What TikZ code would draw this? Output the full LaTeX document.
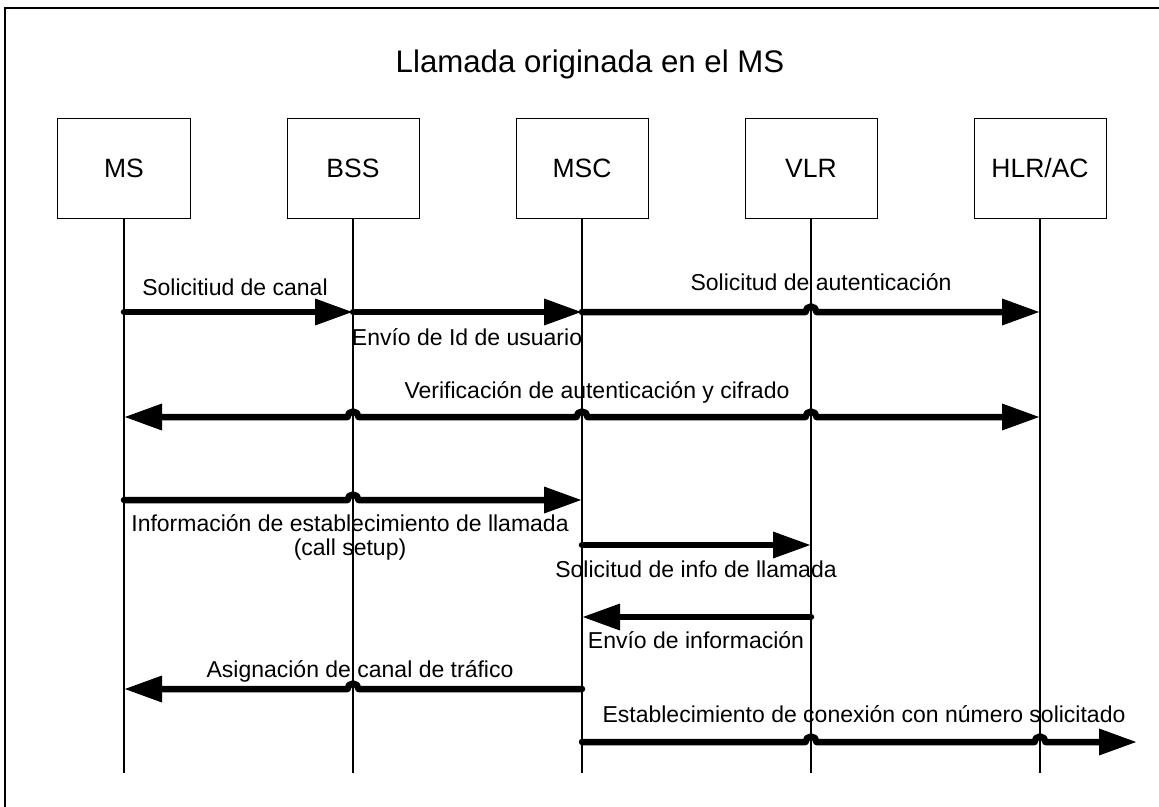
\documentclass[tikz,border=0pt]{standalone}
\usepackage{fontspec}
\setmainfont{Liberation Sans}
\usetikzlibrary{arrows.meta}
\begin{document}
\begin{tikzpicture}[x=1bp,y=-1bp,
  >={Triangle[length=38bp,width=25bp]},
  ent/.style={draw, line width=1bp, minimum width=132bp, minimum height=99bp, inner sep=0pt, font=\fontsize{26.5bp}{30bp}\selectfont},
  life/.style={line width=1.3bp},
  msg/.style={line width=6.5bp, line cap=round, line join=round},
  lbl/.style={anchor=base, inner sep=0pt, font=\fontsize{23bp}{26bp}\selectfont},
  ttl/.style={anchor=base, inner sep=0pt, font=\fontsize{31.2bp}{35bp}\selectfont},
]
\useasboundingbox (0,0) rectangle (1159,807);
% frame
\draw[line width=1.3bp] (5,807) -- (5,8) -- (1159,8);
% title
\node[ttl] (title) at (590,73) {Llamada originada en el MS};
% entities
\node[ent] (ms)  at (124,168.5)  {MS};
\node[ent] (bss) at (353,168.5)  {BSS};
\node[ent] (msc) at (582,168.5)  {MSC};
\node[ent] (vlr) at (811,168.5)  {VLR};
\node[ent] (hlr) at (1040,168.5) {HLR/AC};
% lifelines
\foreach \n in {ms,bss,msc,vlr,hlr}{
  \coordinate (\n end) at (\n.south |- 0,773);
  \draw[life] (\n.south) -- (\n end);
}
% row 1
\draw[msg,->] (ms |- 0,312) -- (bss |- 0,312);
\node[lbl] (l1) at (235,295) {Solicitiud de canal};
\draw[msg,->] (bss |- 0,312) -- (msc |- 0,312);
\node[lbl] (l2) at (467,345) {Envío de Id de usuario};
\draw[msg,->] (msc |- 0,312) -- ([xshift=-5.5bp]vlr |- 0,312) arc(180:360:5.5) -- (hlr |- 0,312);
\node[lbl] (l3) at (821,290) {Solicitud de autenticación};
% row 2
\draw[msg,<->] (ms |- 0,417) -- ([xshift=-5.5bp]bss |- 0,417) arc(180:360:5.5)
   -- ([xshift=-5.5bp]msc |- 0,417) arc(180:360:5.5)
   -- ([xshift=-5.5bp]vlr |- 0,417) arc(180:360:5.5) -- (hlr |- 0,417);
\node[lbl] (l4) at (597,398) {Verificación de autenticación y cifrado};
% row 3
\draw[msg,->] (ms |- 0,500) -- ([xshift=-5.5bp]bss |- 0,500) arc(180:360:5.5) -- (msc |- 0,500);
\node[lbl] (l5a) at (350,531) {Información de establecimiento de llamada};
\node[lbl] (l5b) at (350,555) {(call setup)};
% row 4
\draw[msg,->] (msc |- 0,545) -- (vlr |- 0,545);
\node[lbl] (l6) at (696,577) {Solicitud de info de llamada};
% row 5
\draw[msg,->] (vlr |- 0,617) -- (msc |- 0,617);
\node[lbl] (l7) at (696,648) {Envío de información};
% row 6
\draw[msg,->] (msc |- 0,689) -- ([xshift=5.5bp]bss |- 0,689) arc(360:180:5.5) -- (ms |- 0,689);
\node[lbl] (l8) at (360,677) {Asignación de canal de tráfico};
% row 7
\coordinate (out) at (1137,742);
\draw[msg,->] (msc |- 0,742) -- ([xshift=-5.5bp]vlr |- 0,742) arc(180:360:5.5)
   -- ([xshift=-5.5bp]hlr |- 0,742) arc(180:360:5.5) -- (out);
\node[lbl] (l9) at (864,722) {Establecimiento de conexión con número solicitado};
\end{tikzpicture}
\end{document}
